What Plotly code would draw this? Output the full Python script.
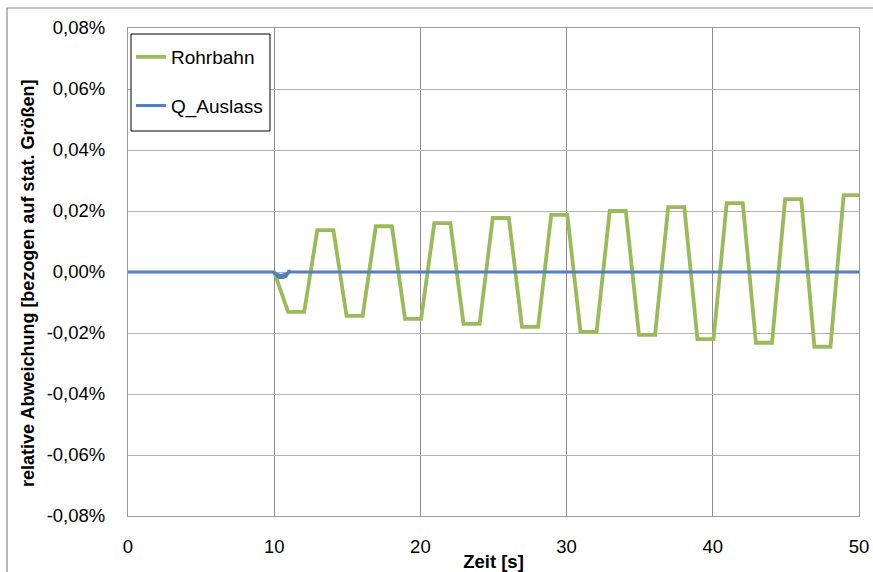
import plotly.graph_objects as go

# Rohrbahn: relative deviation (in %) at the corners of the trapezoidal oscillation
rohr_t = [10.0, 10.95, 12.05, 12.95, 14.05, 14.95, 16.05, 16.95, 18.05, 18.95,
          20.05, 20.95, 22.05, 22.95, 24.05, 24.95, 26.05, 26.95, 28.05, 28.95,
          30.05, 30.95, 32.05, 32.95, 34.05, 34.95, 36.05, 36.95, 38.05, 38.95,
          40.05, 40.95, 42.05, 42.95, 44.05, 44.95, 46.05, 46.95, 48.05, 48.95, 50.0]
rohr_v = [0.0, -0.0131, -0.0131, 0.0137, 0.0137, -0.0144, -0.0144, 0.0150, 0.0150,
          -0.0154, -0.0154, 0.0160, 0.0160, -0.0170, -0.0170, 0.0177, 0.0177,
          -0.0180, -0.0180, 0.0187, 0.0187, -0.0196, -0.0196, 0.0200, 0.0200,
          -0.0206, -0.0206, 0.0213, 0.0213, -0.0220, -0.0220, 0.0226, 0.0226,
          -0.0232, -0.0232, 0.0239, 0.0239, -0.0245, -0.0245, 0.0252, 0.0252]

# Q_Auslass: stays at zero apart from a short noisy dip right after the start
q_t = [0.0, 10.0, 10.05, 10.1, 10.15, 10.2, 10.25, 10.3, 10.35, 10.4, 10.45, 10.5,
       10.55, 10.6, 10.65, 10.7, 10.75, 10.8, 10.85, 10.9, 10.95, 11.0, 11.05, 11.1, 50.0]
q_v = [0.0, 0.0, -0.0008, -0.0002, -0.0014, -0.0004, -0.0019, -0.0006, -0.0021,
       -0.0007, -0.0022, -0.0007, -0.0022, -0.0006, -0.0021, -0.0005, -0.0019,
       -0.0003, -0.0015, 0.0000, -0.0008, 0.0006, 0.0002, 0.0, 0.0]

x_ticks = [0, 10, 20, 30, 40, 50]
y_ticks = [-0.08, -0.06, -0.04, -0.02, 0.0, 0.02, 0.04, 0.06, 0.08]
y_tick_text = ["-0,08%", "-0,06%", "-0,04%", "-0,02%", "0,00%",
               "0,02%", "0,04%", "0,06%", "0,08%"]

FONT = "Liberation Sans"
GREEN = "#9BBB59"
BLUE = "#4F81BD"

# plot area in pixels, used to place the frame items in paper units
L, R, T, B = 128, 14, 28, 56
PW, PH = 873 - L - R, 572 - T - B


def px_x(px):
    return (px - L) / PW


def px_y(py):
    return 1 - (py - T) / PH


fig = go.Figure()
fig.add_trace(go.Scatter(x=rohr_t, y=rohr_v, mode="lines", name="Rohrbahn",
                         legendgroup="a",
                         line=dict(color=GREEN, width=3.8)))
fig.add_trace(go.Scatter(x=q_t, y=q_v, mode="lines", name="Q_Auslass",
                         legendgroup="b",
                         line=dict(color=BLUE, width=3)))

fig.update_layout(
    width=873, height=572,
    margin=dict(l=L, r=R, t=T, b=B),
    paper_bgcolor="white", plot_bgcolor="white",
    font=dict(family=FONT, size=18.5, color="black"),
    showlegend=True,
    legend=dict(x=px_x(131), y=px_y(38), xanchor="left", yanchor="top",
                bgcolor="rgba(0,0,0,0)", borderwidth=0,
                font=dict(size=19), tracegroupgap=21, traceorder="grouped"),
    xaxis=dict(range=[0, 50], tickvals=x_ticks, showgrid=True,
               gridcolor="#8c8c8c", gridwidth=1, zeroline=False,
               showline=True, mirror=True, linecolor="#9a9a9a", linewidth=1,
               ticks="", ticklabelstandoff=14, automargin=False,
               title=dict(text="<b>Zeit [s]</b>", font=dict(size=18.5), standoff=1)),
    yaxis=dict(range=[-0.08, 0.08], tickvals=y_ticks, ticktext=y_tick_text,
               showgrid=True, gridcolor="#b4b4b4", gridwidth=1, zeroline=False,
               showline=True, mirror=True, linecolor="#9a9a9a", linewidth=1,
               ticks="", ticklabelstandoff=18, automargin=False),
    annotations=[dict(text="<b>relative Abweichung [bezogen auf stat. Größen]</b>",
                      xref="paper", yref="paper", x=px_x(28), y=px_y(284),
                      xanchor="center", yanchor="middle", textangle=-90,
                      showarrow=False, font=dict(size=18))],
    shapes=[
        # outer chart frame
        dict(type="rect", xref="paper", yref="paper",
             x0=px_x(7), x1=1.2, y0=-0.3, y1=px_y(8),
             line=dict(color="#8c8c8c", width=1.2), layer="below"),
        # legend box
        dict(type="rect", xref="paper", yref="paper",
             x0=px_x(131), x1=px_x(270), y0=px_y(131), y1=px_y(34),
             fillcolor="white", line=dict(color="black", width=1), layer="above"),
    ],
)

fig.write_html("out.html")
